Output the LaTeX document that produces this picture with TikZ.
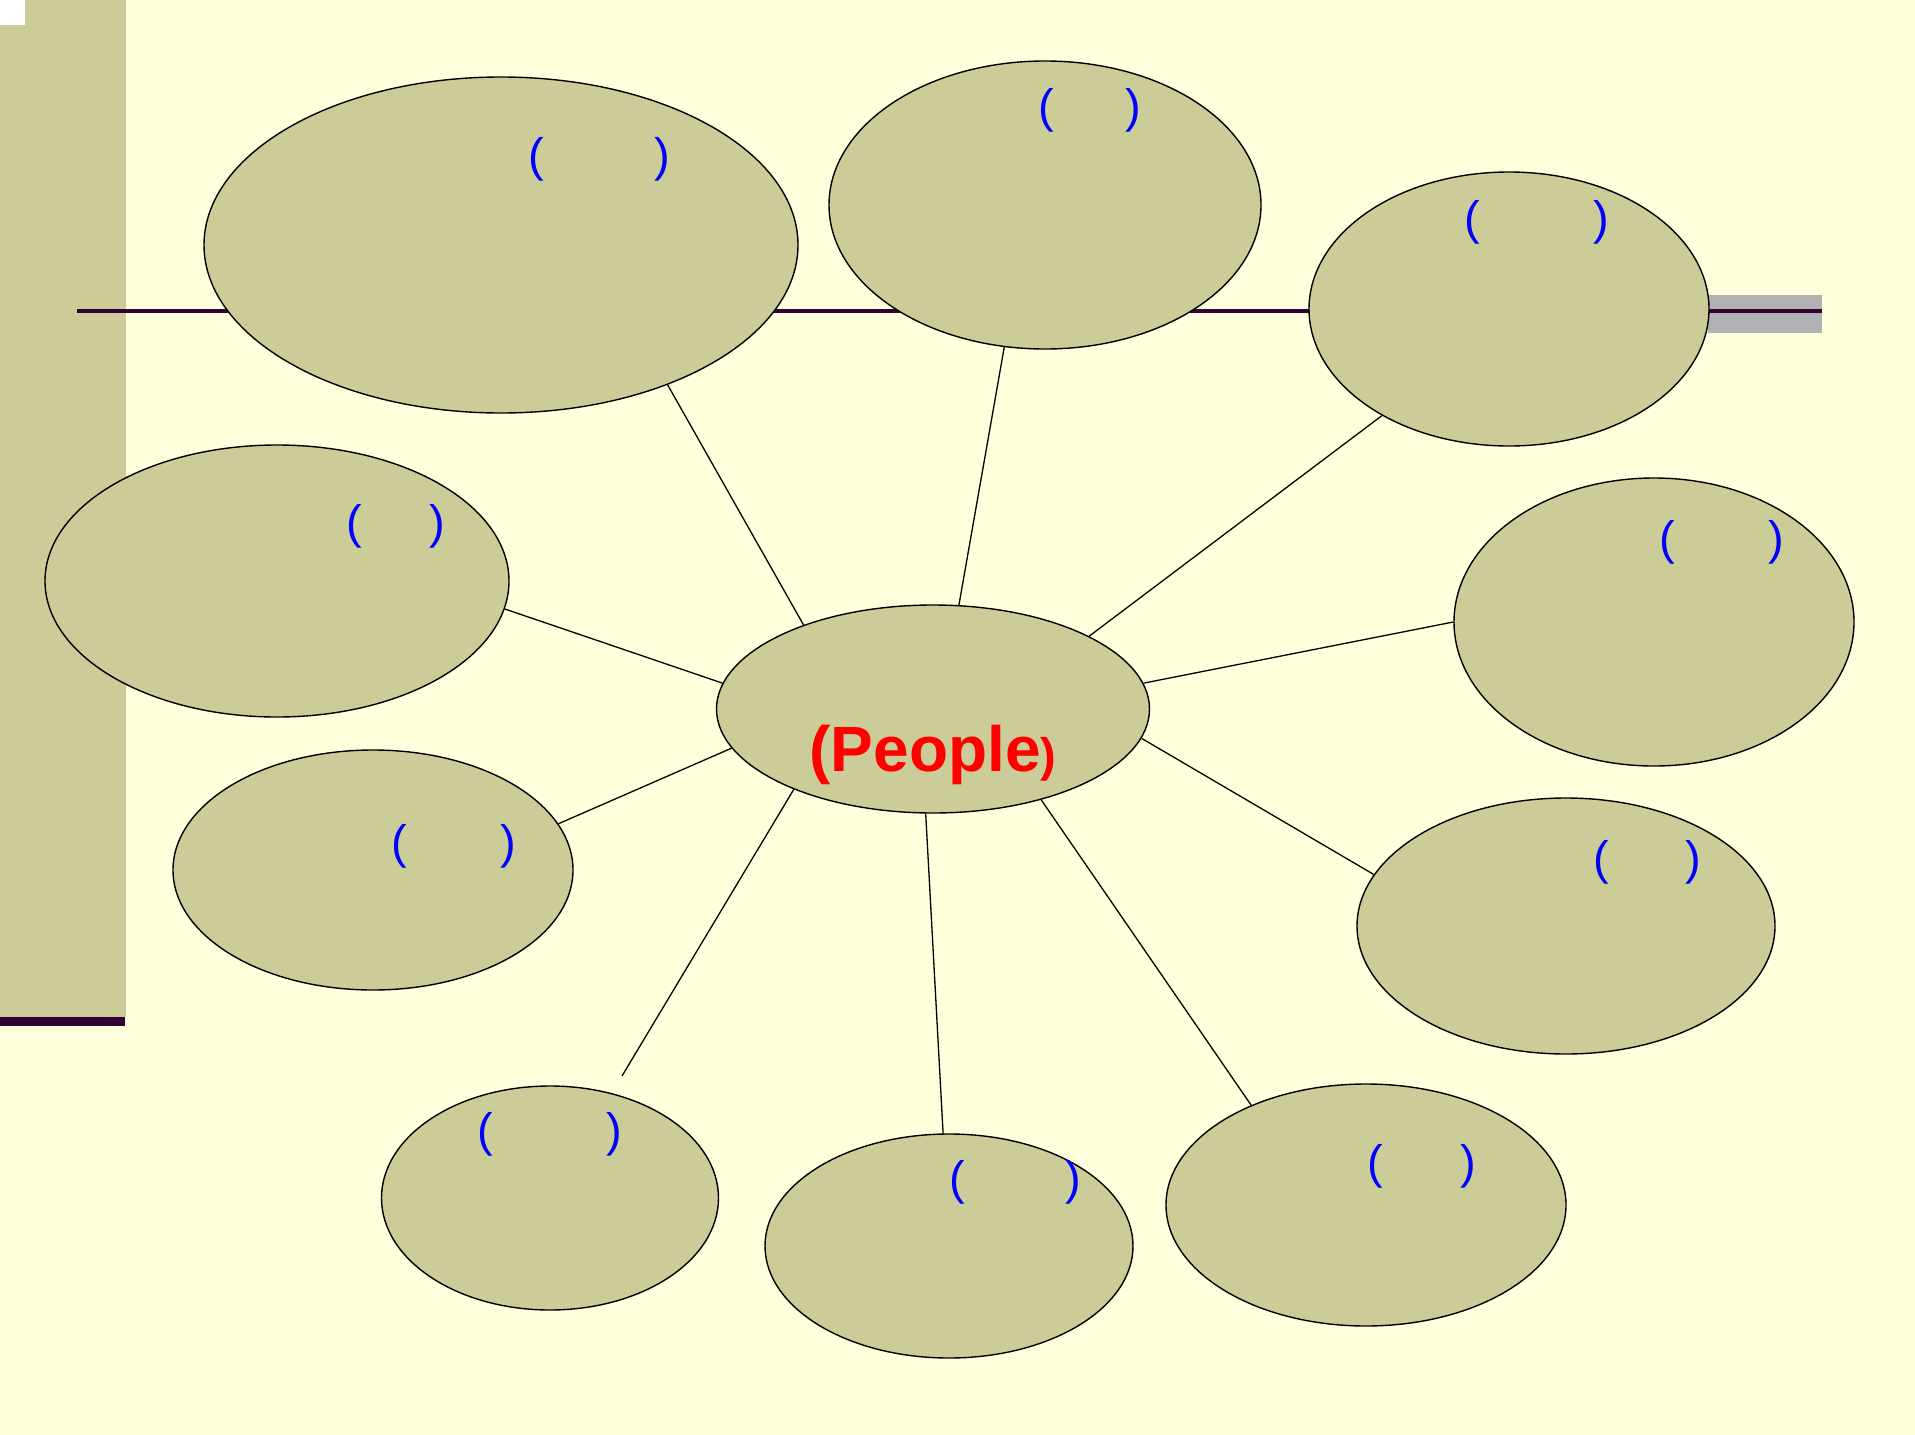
\documentclass[tikz,border=0pt]{standalone}
\usepackage{fontspec}
\setmainfont{Liberation Sans}
\usetikzlibrary{shapes.geometric}
\definecolor{bgyellow}{RGB}{255,255,221}
\definecolor{olivefill}{RGB}{204,204,153}
\definecolor{darkplum}{RGB}{51,0,51}
\definecolor{bargray}{RGB}{178,178,178}
\tikzset{
  bubble/.style={ellipse, draw=black, line width=1.4pt, fill=olivefill, inner sep=0pt},
  paren/.style={text=blue, font=\fontsize{47}{50}\selectfont, inner sep=0pt, anchor=center},
  link/.style={draw=black, line width=1.3pt}
}
\begin{document}
\begin{tikzpicture}[x=1pt,y=-1pt]
\useasboundingbox (0,0) rectangle (1915,1435);
\fill[bgyellow] (0,0) rectangle (1915,1435);
% left bar
\fill[olivefill] (0,0) rectangle (126,1017);
\fill[white] (0,0) rectangle (25,25);
\fill[darkplum] (0,1017) rectangle (125,1026);
% right gray bar and horizontal rule
\fill[bargray] (1708,295) rectangle (1822,333);
\draw[darkplum, line width=4pt] (77,311) -- (1822,311);
% bubbles
\node[bubble, minimum width=594pt, minimum height=336pt] (tl) at (501,245) {};
\node[bubble, minimum width=432pt, minimum height=288pt] (tm) at (1045,205) {};
\node[bubble, minimum width=400pt, minimum height=274pt] (tr) at (1509,309) {};
\node[bubble, minimum width=464pt, minimum height=272pt] (l) at (277,581) {};
\node[bubble, minimum width=400pt, minimum height=288pt] (r) at (1654,622) {};
\node[bubble, minimum width=400pt, minimum height=240pt] (ll) at (373,870) {};
\node[bubble, minimum width=418pt, minimum height=256pt] (rl) at (1566,926) {};
\node[bubble, minimum width=337pt, minimum height=224pt] (bl) at (550,1198) {};
\node[bubble, minimum width=368pt, minimum height=224pt] (bm) at (949,1246) {};
\node[bubble, minimum width=400pt, minimum height=242pt] (br) at (1366,1205) {};
\node[bubble, minimum width=433pt, minimum height=208pt] (c) at (933,709) {};
\node[anchor=base, text=red, inner sep=0pt, font=\fontsize{64}{70}\selectfont\bfseries] (ctext) at (933,771) {(People{\fontsize{47}{50}\selectfont)}};
\coordinate (e8) at (622,1076);
% connectors
\draw[link] (c.147.4) -- (tl.320.9);
\draw[link] (c.76.6) -- (tm.254.4);
\draw[link] (c.25.5) -- (tr.220.9);
\draw[link] (c.173.4) -- (l.353.5);
\draw[link] (c.7.1) -- (r.180);
\draw[link] (c.191.6) -- (ll.14.5);
\draw[link] (c.352.1) -- (rl.165.5);
\draw[link] (c.210.1) -- (e8);
\draw[link] (c.266) -- (bm.93.8);
\draw[link] (c.320) -- (br.139.5);
% parentheses
\node[paren] (p1a) at (536,159) {(};  \node[paren] (p1b) at (662,159) {)};
\node[paren] (p2a) at (1046,110) {(}; \node[paren] (p2b) at (1133,110) {)};
\node[paren] (p3a) at (1472,222) {(}; \node[paren] (p3b) at (1601,222) {)};
\node[paren] (p4a) at (354,526) {(};  \node[paren] (p4b) at (437,526) {)};
\node[paren] (p5a) at (1667,542) {(}; \node[paren] (p5b) at (1776,542) {)};
\node[paren] (p6a) at (399,846) {(};  \node[paren] (p6b) at (508,846) {)};
\node[paren] (p7a) at (1601,862) {(}; \node[paren] (p7b) at (1693,862) {)};
\node[paren] (p8a) at (485,1134) {(}; \node[paren] (p8b) at (614,1134) {)};
\node[paren] (p9a) at (957,1182) {(}; \node[paren] (p9b) at (1073,1182) {)};
\node[paren] (p10a) at (1375,1166) {(}; \node[paren] (p10b) at (1468,1166) {)};
\end{tikzpicture}
\end{document}
